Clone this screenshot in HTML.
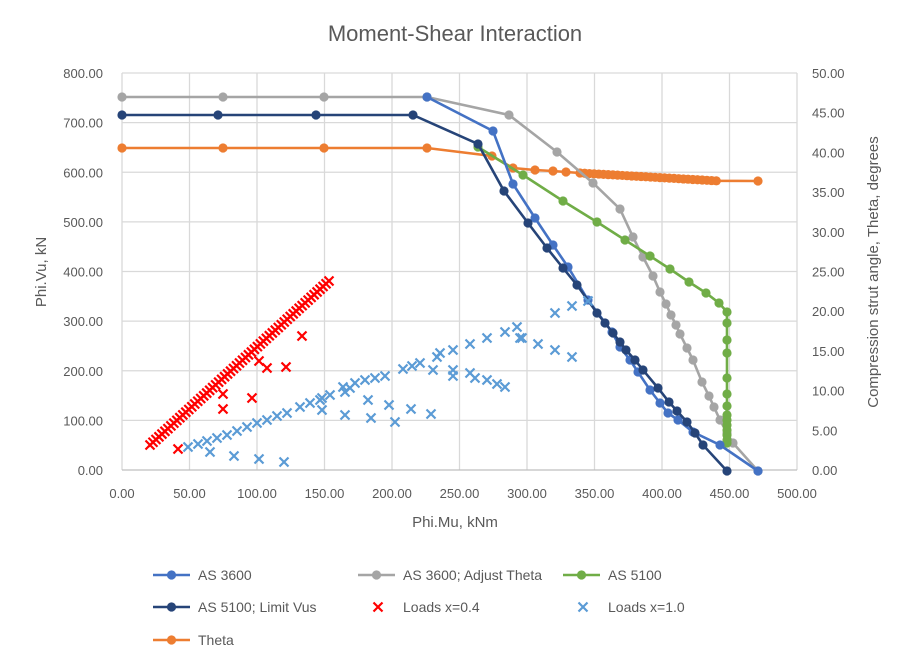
<!DOCTYPE html>
<html><head><meta charset="utf-8"><style>
html,body{margin:0;padding:0;background:#fff}
svg{display:block;font-family:"Liberation Sans",sans-serif}
</style></head><body>
<svg id="s" width="910" height="667" viewBox="0 0 910 667" xmlns="http://www.w3.org/2000/svg">
<rect width="910" height="667" fill="#fff"/>
<text x="455" y="41" font-size="22" text-anchor="middle" fill="#595959">Moment-Shear Interaction</text>
<g id="grid" stroke="#d9d9d9" stroke-width="1.3"></g>
<g id="labels" font-size="13" fill="#595959"></g>
<text x="455" y="527" font-size="15" text-anchor="middle" fill="#595959">Phi.Mu, kNm</text>
<text transform="translate(46,272) rotate(-90)" font-size="15" text-anchor="middle" fill="#595959">Phi.Vu, kN</text>
<text transform="translate(878,272) rotate(-90)" font-size="15" text-anchor="middle" fill="#595959">Compression strut angle, Theta, degrees</text>
<g id="data"></g>
<g id="legend" font-size="14" fill="#595959"></g>
</svg>
<script>
const NS="http://www.w3.org/2000/svg";
function el(p,t,a,txt){const e=document.createElementNS(NS,t);for(const k in a)e.setAttribute(k,a[k]);if(txt!==undefined)e.textContent=txt;document.getElementById(p).appendChild(e);return e;}
for(let k=0;k<=10;k++){const x=122+67.5*k;el('grid','line',{x1:x,y1:73,x2:x,y2:470});el('labels','text',{x:x,y:498,'text-anchor':'middle'},(50*k).toFixed(2));}
for(let k=0;k<=8;k++){const y=73+49.625*k;el('grid','line',{x1:122,y1:y,x2:797,y2:y,stroke:k==8?'#bfbfbf':'#d9d9d9'});
el('labels','text',{x:103,y:y+5,'text-anchor':'end'},(800-100*k).toFixed(2));}
for(let k=0;k<=10;k++){const y=73+39.7*k;el('labels','text',{x:812,y:y+5},(50-5*k).toFixed(2));}
function series(pts,c){el('data','polyline',{points:pts.map(p=>p.join(',')).join(' '),fill:'none',stroke:c,'stroke-width':2.6});
pts.forEach(p=>el('data','circle',{cx:p[0],cy:p[1],r:4.6,fill:c}));}
function cross(x,y,c,p){p=p||'data';el(p,'path',{d:`M${x-4.5},${y-4.5}L${x+4.5},${y+4.5}M${x+4.5},${y-4.5}L${x-4.5},${y+4.5}`,stroke:c,'stroke-width':2.2});}
let th=[[122,148],[223,148],[324,148],[427,148],[492,156],[513,168],[535,170],[553,171],[566,172]];
for(let i=0;i<30;i++){const x=580+i*4.7;th.push([x,173+i*0.27]);}th.push([758,181]);
series(th,'#ed7d31');
series([[122,97],[223,97],[324,97],[427,97],[509,115],[557,152],[593,183],[620,209],[633,237],[643,257],[653,276],[660,292],[666,304],[671,315],[676,325],[680,334],[687,348],[693,360],[702,382],[709,396],[714,407],[720,420],[727,433],[733,443],[758,471]],'#a5a5a5');
series([[478,147],[523,175],[563,201],[597,222],[625,240],[650,256],[670,269],[689,282],[706,293],[719,303],[727,312],[727,323],[727,340],[727,353],[727,378],[727,394],[727,406],[727,415],[727,420],[727,425],[727,430],[727,435],[727,440],[727,443]],'#70ad47');
series([[427,97],[493,131],[513,184],[535,218],[553,245],[568,267],[588,300],[612,332],[620,347],[630,360],[638,372],[650,390],[660,403],[668,413],[678,420],[693,432],[720,445],[758,471]],'#4472c4');
series([[122,115],[218,115],[316,115],[413,115],[478,144],[504,191],[528,223],[547,248],[563,268],[577,285],[597,313],[605,323],[613,333],[620,342],[626,350],[635,360],[643,370],[658,388],[669,402],[677,411],[687,422],[695,433],[703,445],[727,471]],'#264478');
for(let i=0;i<=60;i++){const t=i/60;cross(150+t*179,445-t*164,'#ff0000');}
[[302,336],[259,361],[267,368],[286,367],[223,394],[252,398],[223,409],[178,449]].forEach(p=>cross(p[0],p[1],'#ff0000'));
let b=[[188,447],[198,444],[207,441],[217,438],[227,435],[237,431],[247,427],[257,423],[267,420],[277,416],[287,413],[300,407],[310,403],[320,400],[330,395],[343,387],[355,383],[365,380],[375,378],[385,376],[403,369],[412,366],[420,363],[437,357],[440,353],[453,350],[470,344],[487,338],[505,332],[517,327],[522,338],[538,344],[555,350],[555,313],[572,306],[588,301],[520,338],[572,357],[433,370],[453,370],[453,376],[470,373],[475,378],[487,380],[497,384],[505,387],[210,452],[234,456],[259,459],[284,462],[322,398],[322,410],[345,415],[368,400],[371,418],[389,405],[395,422],[411,409],[431,414],[345,392],[350,388]];
b.forEach(p=>cross(p[0],p[1],'#5b9bd5'));
function lg(x,y,c,t,mk){if(mk){cross(x+20,y,c,'legend');}else{el('legend','line',{x1:x,y1:y,x2:x+37,y2:y,stroke:c,'stroke-width':2.6});el('legend','circle',{cx:x+18.5,cy:y,r:4.6,fill:c});}
el('legend','text',{x:x+45,y:y+5},t);}
lg(153,575,'#4472c4','AS 3600');lg(358,575,'#a5a5a5','AS 3600; Adjust Theta');lg(563,575,'#70ad47','AS 5100');
lg(153,607,'#264478','AS 5100; Limit Vus');lg(358,607,'#ff0000','Loads x=0.4',1);lg(563,607,'#5b9bd5','Loads x=1.0',1);
lg(153,640,'#ed7d31','Theta');
</script>
</body></html>
